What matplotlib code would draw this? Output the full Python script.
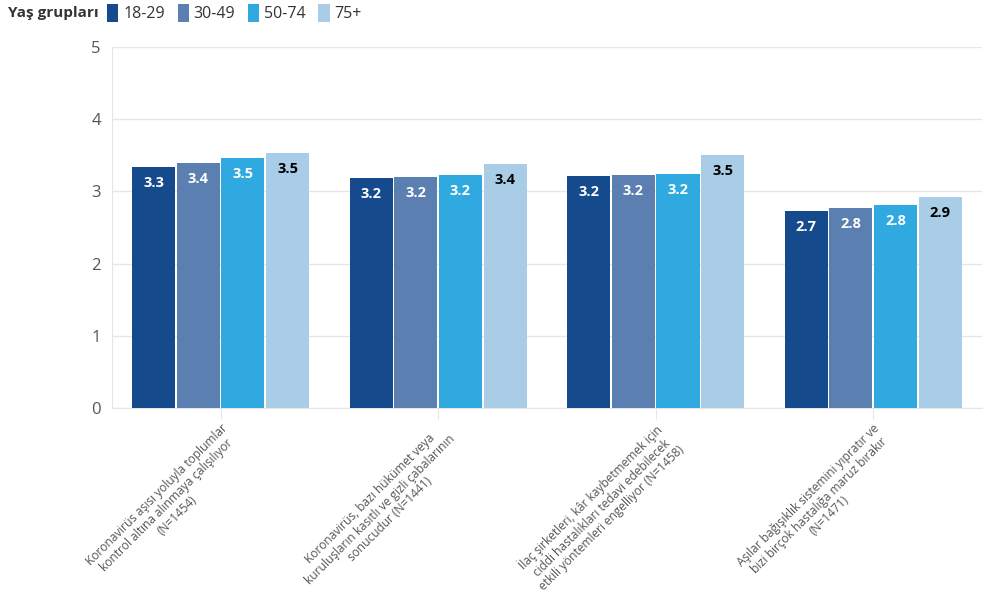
"""Grouped bar chart: belief scores by age group."""
import matplotlib.pyplot as plt
import numpy as np
from matplotlib.patches import Patch

plt.rcParams["font.family"] = ["Open Sans", "DejaVu Sans"]

categories = [
    "Koronavirüs aşısı yoluyla toplumlar\nkontrol altına alınmaya çalışılıyor\n(N=1454)",
    "Koronavirüs, bazı hükümet veya\nkuruluşların kasıtlı ve gizli çabalarının\nsonucudur (N=1441)",
    "İlaç şirketleri, kâr kaybetmemek için\nciddi hastalıkları tedavi edebilecek\netkili yöntemleri engelliyor (N=1458)",
    "Aşılar bağışıklık sistemini yıpratır ve\nbizi birçok hastalığa maruz bırakır\n(N=1471)",
]
age_groups = ["18-29", "30-49", "50-74", "75+"]
values_18_29 = [3.34, 3.19, 3.21, 2.73]
values_30_49 = [3.39, 3.20, 3.23, 2.77]
values_50_74 = [3.46, 3.23, 3.24, 2.81]
values_75_plus = [3.53, 3.38, 3.50, 2.92]
series = [values_18_29, values_30_49, values_50_74, values_75_plus]

colors = ["#154a8c", "#5b7fb0", "#30a9e0", "#a9cde6"]
label_colors = ["white", "white", "white", "black"]

fig = plt.figure(figsize=(9.99, 5.97), dpi=100)
ax = fig.add_axes([0.112, 0.317, 0.871, 0.604])

x = np.arange(len(categories))
bar_w = 0.198
offsets = (np.arange(len(series)) - 1.5) * 0.205

for i, vals in enumerate(series):
    bars = ax.bar(x + offsets[i], vals, width=bar_w, color=colors[i],
                  label=age_groups[i], zorder=3)
    for rect, v in zip(bars, vals):
        ax.annotate(f"{v:.1f}", (rect.get_x() + rect.get_width() / 2, v),
                    xytext=(0, -11.5), textcoords="offset points",
                    ha="center", va="center", fontsize=10.5, fontweight="bold",
                    color=label_colors[i], zorder=4)

ax.set_xlim(-0.5, len(categories) - 0.5)
ax.set_ylim(0, 5)
ax.set_yticks(range(0, 6))
ax.grid(axis="y", color="#e6e6e6", linewidth=1, zorder=0)
for s in ["top", "right"]:
    ax.spines[s].set_visible(False)
ax.spines["left"].set_color("#e6e6e6")
ax.spines["bottom"].set_color("#e6e6e6")
ax.tick_params(axis="y", length=0, labelsize=12, labelcolor="#555555", pad=8)
ax.tick_params(axis="x", length=8, color="#e6e6e6", labelcolor="#555555", pad=2)
ax.set_xticks(x)
ax.set_xticklabels(categories, rotation=45, ha="right", rotation_mode="anchor",
                   fontsize=8.6, multialignment="center", linespacing=1.15)

fig.text(0.008, 0.978, "Yaş grupları", fontsize=11, fontweight="bold",
         color="#333333", va="center")
handles = [Patch(facecolor=c, edgecolor="none", label=l)
           for c, l in zip(colors, age_groups)]
fig.legend(handles=handles, loc="center left", bbox_to_anchor=(0.093, 0.978),
           ncol=4, frameon=False, fontsize=11.5, handlelength=0.7,
           handleheight=1.3, handletextpad=0.3, columnspacing=0.8,
           labelcolor="#333333")

fig.savefig("out.png", dpi=100)
